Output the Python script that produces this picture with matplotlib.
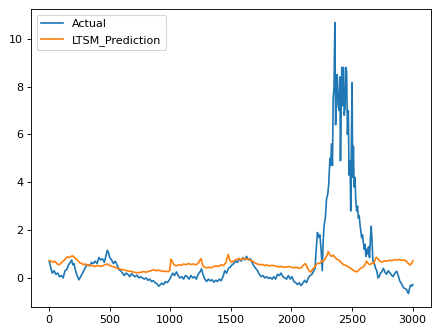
import numpy as np
import matplotlib
matplotlib.use('Agg')
import matplotlib.pyplot as plt

# Actual - значения (x - номер отсчета)
actual_x = [0, 12, 25, 40, 55, 70, 85, 100, 115, 130, 145, 160, 175, 185, 195, 205, 215, 230, 245, 260,
            275, 290, 305, 320, 335, 350, 365, 380, 395, 410, 425, 440, 455, 470, 480, 490, 500, 515, 530, 545,
            560, 575, 590, 605, 620, 635, 650, 665, 680, 695, 710, 725, 740, 755, 770, 785, 800, 815, 830, 845,
            860, 875, 890, 905, 915, 930, 945, 960, 975, 990, 1005, 1020, 1035, 1050, 1065, 1080, 1095, 1110, 1125, 1140,
            1155, 1170, 1185, 1200, 1215, 1230, 1245, 1258, 1270, 1285, 1300, 1315, 1330, 1345, 1360, 1375, 1390, 1405, 1420, 1435,
            1450, 1465, 1480, 1495, 1510, 1525, 1540, 1555, 1570, 1585, 1600, 1615, 1630, 1645, 1660, 1675, 1690, 1705, 1720, 1735,
            1750, 1765, 1780, 1795, 1810, 1825, 1840, 1855, 1870, 1885, 1900, 1915, 1930, 1945, 1960, 1975, 1990, 2005, 2020, 2035,
            2050, 2065, 2080, 2095, 2110, 2125, 2140, 2155, 2170, 2185, 2195, 2205, 2215, 2225, 2235, 2245, 2255, 2262, 2270, 2280,
            2290, 2300, 2308, 2318, 2325, 2331, 2339, 2345, 2352, 2359, 2365, 2372, 2378, 2386, 2394, 2400, 2405, 2410, 2416, 2422,
            2429, 2436, 2443, 2449, 2456, 2463, 2470, 2476, 2484, 2490, 2496, 2501, 2506, 2512, 2518, 2525, 2532, 2539, 2546, 2553,
            2560, 2567, 2574, 2580, 2587, 2594, 2601, 2608, 2615, 2622, 2630, 2637, 2645, 2652, 2659, 2666, 2673, 2685, 2695, 2705,
            2715, 2725, 2735, 2745, 2760, 2772, 2785, 2800, 2815, 2830, 2840, 2855, 2870, 2882, 2895, 2910, 2925, 2940, 2950, 2960,
            2967, 2975, 2985, 2992, 3003]
actual_y = [0.70, 0.45, 0.20, 0.30, 0.15, 0.20, 0.05, 0.10, 0.00, 0.30, 0.35, 0.55, 0.65, 0.75, 0.55, 0.60, 0.35, 0.10, -0.08, 0.05,
            0.20, 0.35, 0.50, 0.55, 0.50, 0.65, 0.60, 0.70, 0.60, 0.85, 0.75, 0.80, 0.65, 0.95, 1.15, 1.05, 0.85, 0.75, 0.60, 0.70,
            0.55, 0.35, 0.30, 0.20, 0.10, 0.20, 0.15, 0.05, 0.18, 0.10, 0.05, 0.12, 0.00, 0.05, 0.00, -0.05, 0.00, -0.10, -0.05, -0.15,
            -0.12, -0.20, -0.25, -0.35, -0.30, -0.22, -0.28, -0.15, -0.20, -0.10, 0.05, 0.20, 0.10, 0.25, 0.10, 0.00, 0.05, -0.05, 0.10, 0.05,
            -0.05, 0.10, 0.00, 0.05, -0.05, 0.15, 0.25, 0.38, 0.15, -0.05, -0.15, -0.05, -0.12, -0.08, -0.18, -0.10, -0.15, -0.05, -0.12, 0.05,
            0.30, 0.20, 0.40, 0.45, 0.55, 0.60, 0.70, 0.65, 0.80, 0.70, 0.85, 0.75, 0.90, 0.75, 0.80, 0.65, 0.50, 0.40, 0.30, 0.15,
            0.05, 0.10, 0.00, 0.05, -0.02, 0.02, -0.05, 0.05, -0.05, 0.15, 0.10, 0.20, 0.05, 0.00, -0.05, 0.10, -0.05, 0.05, -0.15, -0.20,
            -0.28, -0.20, -0.32, -0.22, -0.10, -0.20, 0.00, 0.10, 0.15, 0.30, 0.40, 1.20, 1.90, 1.70, 1.80, 1.20, 0.30, 1.50, 2.20, 2.50,
            3.30, 3.50, 3.90, 5.00, 4.70, 5.60, 4.70, 7.50, 8.00, 10.67, 6.40, 7.80, 8.50, 7.20, 7.00, 8.40, 4.90, 6.50, 8.80, 7.20,
            8.80, 6.80, 7.10, 8.80, 8.60, 6.00, 7.00, 4.30, 4.90, 2.80, 6.00, 8.16, 4.20, 5.50, 3.80, 4.20, 3.20, 2.80, 3.00, 2.50,
            2.60, 2.20, 1.90, 1.68, 1.80, 1.50, 1.20, 1.40, 0.90, 1.20, 1.00, 1.30, 0.85, 1.60, 2.16, 1.50, 0.70, 0.60, 0.40, 0.30,
            0.00, 0.05, 0.20, 0.25, 0.40, 0.25, 0.15, 0.30, 0.20, 0.10, 0.05, 0.20, 0.28, 0.10, -0.13, -0.25, -0.41, -0.45, -0.48, -0.60,
            -0.65, -0.45, -0.30, -0.35, -0.28]

# LTSM_Prediction
pred_x = [0, 15, 30, 45, 60, 75, 90, 105, 120, 135, 150, 165, 180, 195, 210, 225, 240, 255, 270, 285,
          300, 320, 340, 360, 380, 400, 420, 440, 460, 480, 500, 520, 540, 560, 580, 600, 620, 640, 660, 680,
          700, 720, 740, 760, 780, 800, 820, 840, 860, 880, 900, 920, 940, 960, 980, 995, 1005, 1015, 1030, 1050,
          1070, 1090, 1110, 1130, 1150, 1170, 1190, 1210, 1230, 1245, 1255, 1265, 1280, 1300, 1320, 1340, 1360, 1380, 1400, 1420,
          1440, 1460, 1478, 1490, 1505, 1520, 1540, 1560, 1580, 1600, 1620, 1640, 1660, 1680, 1700, 1720, 1740, 1760, 1780, 1800,
          1820, 1840, 1860, 1880, 1900, 1920, 1940, 1960, 1980, 2000, 2020, 2040, 2060, 2080, 2100, 2115, 2130, 2145, 2160, 2175,
          2190, 2205, 2220, 2235, 2250, 2265, 2280, 2295, 2305, 2315, 2330, 2345, 2360, 2375, 2390, 2410, 2430, 2450, 2470, 2490,
          2510, 2525, 2540, 2555, 2570, 2590, 2605, 2620, 2635, 2650, 2665, 2680, 2700, 2715, 2730, 2750, 2770, 2790, 2810, 2830,
          2850, 2870, 2890, 2910, 2930, 2950, 2965, 2980, 2992, 3003]
pred_y = [0.72, 0.70, 0.65, 0.70, 0.62, 0.55, 0.58, 0.65, 0.72, 0.80, 0.88, 0.85, 0.90, 0.92, 0.85, 0.78, 0.70, 0.62, 0.60, 0.55,
          0.58, 0.52, 0.55, 0.50, 0.48, 0.52, 0.48, 0.50, 0.55, 0.58, 0.52, 0.48, 0.45, 0.40, 0.38, 0.35, 0.33, 0.30, 0.28, 0.27,
          0.24, 0.22, 0.22, 0.24, 0.26, 0.24, 0.27, 0.30, 0.35, 0.30, 0.32, 0.30, 0.27, 0.28, 0.26, 0.30, 0.78, 0.70, 0.55, 0.50,
          0.55, 0.53, 0.58, 0.55, 0.60, 0.56, 0.58, 0.55, 0.60, 0.75, 0.80, 0.55, 0.45, 0.42, 0.45, 0.42, 0.48, 0.50, 0.48, 0.55,
          0.52, 0.65, 0.98, 0.75, 0.65, 0.70, 0.75, 0.80, 0.75, 0.82, 0.78, 0.80, 0.75, 0.70, 0.62, 0.58, 0.55, 0.56, 0.52, 0.54,
          0.50, 0.53, 0.50, 0.48, 0.46, 0.48, 0.44, 0.46, 0.48, 0.44, 0.42, 0.45, 0.40, 0.42, 0.54, 0.60, 0.45, 0.30, 0.24, 0.36,
          0.44, 0.55, 0.62, 0.60, 0.72, 0.70, 0.82, 0.95, 1.10, 0.98, 0.90, 0.95, 0.86, 0.78, 0.75, 0.65, 0.55, 0.52, 0.46, 0.40,
          0.32, 0.28, 0.25, 0.32, 0.40, 0.45, 0.52, 0.70, 0.60, 0.55, 0.62, 0.60, 0.86, 0.80, 0.70, 0.66, 0.72, 0.70, 0.74, 0.72,
          0.76, 0.75, 0.77, 0.73, 0.75, 0.70, 0.60, 0.54, 0.60, 0.72]

fig = plt.figure(figsize=(5.4, 4.0875), dpi=80)
ax = fig.add_axes([0.0718, 0.0612, 0.926, 0.911])
ax.plot(actual_x, actual_y, label='Actual')
ax.plot(pred_x, pred_y, label='LTSM_Prediction')
ax.legend(loc='upper left')
fig.savefig('out.png', dpi=80)
